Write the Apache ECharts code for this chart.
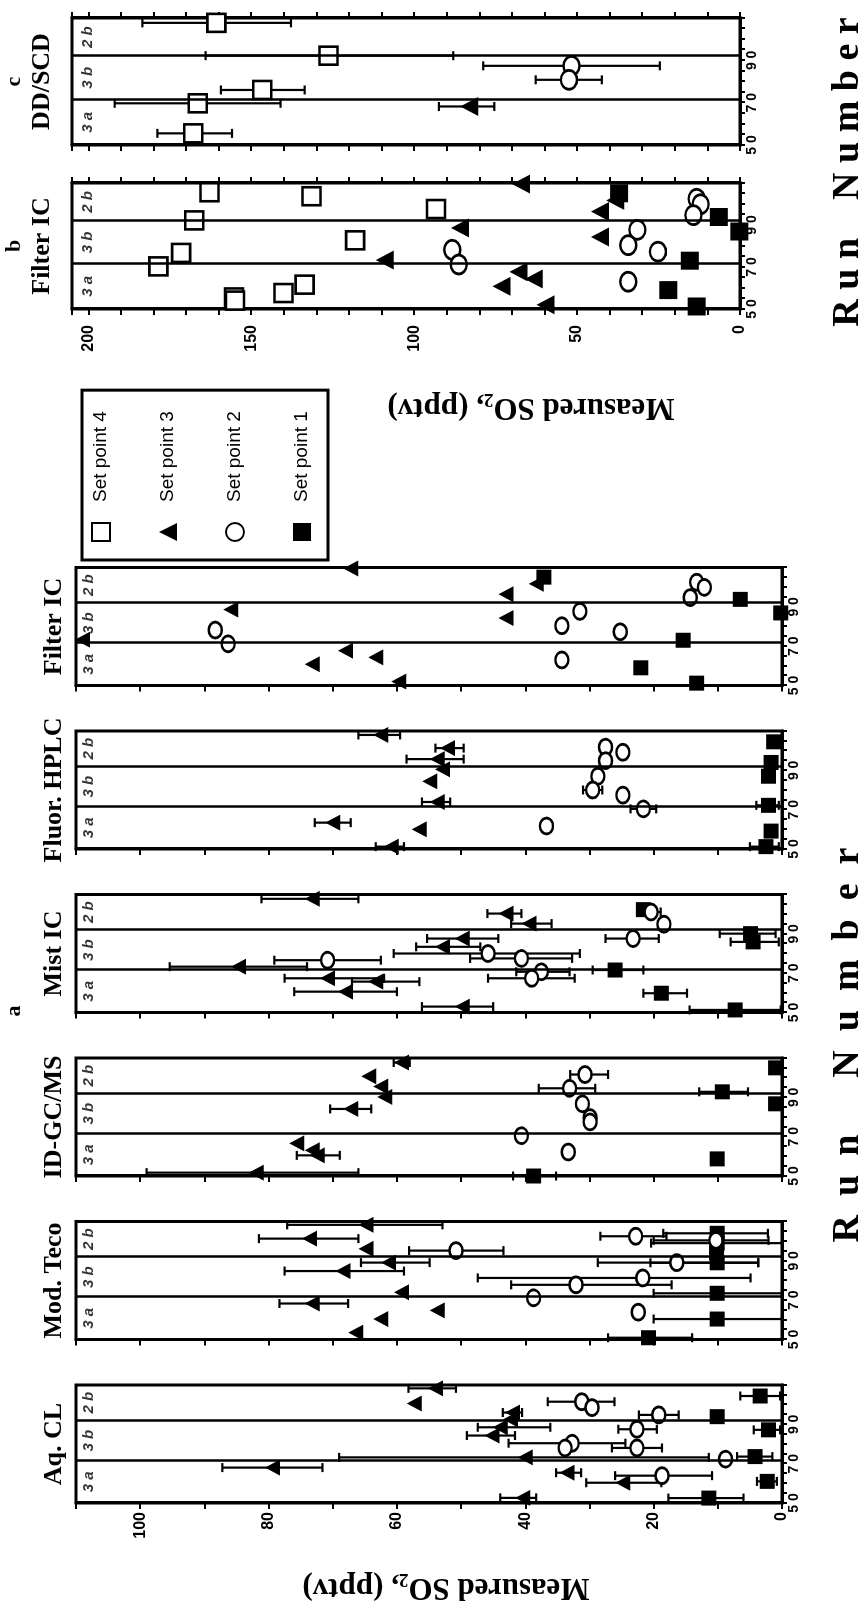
<!DOCTYPE html>
<html>
<head>
<meta charset="utf-8">
<script src="https://cdn.jsdelivr.net/npm/echarts@6/dist/echarts.min.js"></script>
<style>
  html, body { margin: 0; padding: 0; background: #fff; overflow: hidden; }
  /* the figure is laid out upright and turned a quarter turn to the left, like the printed page */
  #chart { position: absolute; left: 0; top: 0; width: 1605px; height: 868px;
           transform-origin: 0 0; transform: translateY(1605px) rotate(-90deg); }
</style>
</head>
<body>
<div id="chart"></div>
<script>
// run number axis
const runMin = 50;
const runMax = 110;
const runLabelValues = [50, 70, 90];
const setBoundaries = [71.5, 92];
const setLabels = ['3 a', '3 b', '2 b'];

// measured SO2 (pptv): [run, value, error end, error end]
const aqclSp1 = [[104.4, 3.4, 6.5, 0.3], [93.9, 10.1], [87.2, 2.1, 4.4, 0.3], [73.6, 4.2, 7, 1.5], [61, 2.3, 3.9, 0.8], [52.5, 11.4, 17.7, 6]];
const aqclSp2 = [[101.5, 31.2, 36.5, 26.1], [98.5, 29.6], [94.8, 19.2, 22.3, 16.1], [87.5, 22.6, 25.5, 19.5], [80.4, 32.7, 42.6, 24.4], [78, 33.8], [78, 22.6, 26.5, 18.7], [72.3, 8.8], [63.9, 18.7, 26, 10.9]];
const aqclSp3 = [[108.3, 54, 58.2, 50.8], [100.6, 57.3], [96, 42, 43.5, 40.5], [92.5, 42.3], [88.5, 43.9, 47.4, 36.1], [84.3, 45.2, 49.1, 41.6], [73.2, 40, 69, 11.4], [68, 79.4, 87.2, 71.6], [65.4, 33.5, 35.2, 31.3], [60.3, 24.8, 30.5, 18.8], [52.6, 40.4, 43.9, 38.3]];

const tecoSp1 = [[104, 10.1, 18.5, 2.2], [99, 10.1, 20.4, 0], [94, 10.2], [89, 10.1, 20.5, 3.7], [73.5, 10.1, 20, 0], [60.4, 10.1, 20, 0], [50.9, 20.8, 27.1, 14]];
const tecoSp2 = [[102.5, 22.8, 28.3, 18], [100.4, 10.3, 20, 2.1], [95.2, 50.8, 58.1, 43.4], [89.1, 16.4, 28.7, 3.7], [81.3, 21.7, 47.4, 4.9], [77.8, 32.1, 42.2, 17.2], [71.2, 38.7], [63.9, 22.4]];
const tecoSp3 = [[108.3, 64.8, 77.1, 52.9], [101.3, 73.6, 81.5, 66], [96.1, 64.8], [89.1, 61.3, 65.6, 54.9], [84.8, 68.4, 77.5, 58.9], [74, 59.3], [68.3, 73.2, 78.3, 67.6], [64.8, 53.7], [60.4, 62.5], [53.5, 66.4]];

const idgcSp1 = [[105, 1], [92.8, 9.3, 12.9, 5.3], [86.7, 1], [58.7, 10.1], [50, 38.7, 41.9, 35.2]];
const idgcSp2 = [[101.6, 30.7, 33, 27.1], [94.6, 33.1, 37.9, 29.1], [86.7, 31.1], [79.7, 29.9], [77.5, 29.9], [70.5, 40.6], [62.2, 33.3]];
const idgcSp3 = [[107.7, 59.3, 60.5, 58], [100.7, 64.4], [95.5, 62.5], [90.2, 61.9], [84.1, 67.2, 70.4, 64], [66.6, 75.6], [63.1, 73.2], [60.5, 72.4, 75.6, 68.9], [51.7, 81.9, 99, 66]];

const mistSp1 = [[102.3, 21.6, 22.5, 20.3], [90.1, 4.9, 9.7, 1], [85.9, 4.5, 8, 0.5], [71.6, 26, 29.5, 21.6], [59.8, 18.8, 21.6, 14.8], [51.3, 7.3, 14.4, 0.2]];
const mistSp2 = [[101.1, 20.4, 21.5, 18.9], [94.9, 18.4], [87.6, 23.2, 27.5, 19.2], [80, 45.8, 60.5, 31.5], [77.5, 40.6, 48.6, 32.7], [76.6, 70.8, 79.1, 62.5], [70.7, 37.5, 41.4, 33.1], [67.4, 39, 45.8, 32.3]];
const mistSp3 = [[107.8, 73.2, 81.1, 66], [100.3, 43, 45.9, 40.6], [95.2, 39.4, 42.2, 35.9], [87.6, 49.8, 55.3, 44.2], [83.4, 52.9, 57, 47], [73.3, 84.7, 95.4, 74], [67.4, 70.8, 77.5, 62], [65.7, 63.3, 67, 56.5], [60.6, 68, 76, 60], [53, 49.8, 56.1, 45]];

const hplcSp1 = [[104.5, 1.3], [94, 1.7], [87, 2.1], [72.2, 2.1, 4, 0.5], [59.1, 1.7], [51.2, 2.5, 5, 0.5]];
const hplcSp2 = [[101.8, 27.5], [99.2, 24.8], [94.9, 27.5], [87, 28.7], [80, 29.5, 31, 28], [77.4, 24.8], [70.4, 21.6, 23.6, 19.6], [61.7, 36.7]];
const hplcSp3 = [[108, 62.5, 66, 59.5], [101.3, 52.1, 54, 49.6], [95.7, 53.7, 58.5, 49.6], [90.5, 52.9], [84.4, 54.9], [73.9, 53.7, 56.1, 51.7], [63.4, 70, 72.8, 67.2], [60, 56.5], [51.2, 60.9, 63.3, 58.9]];

const filterSp1 = [[105.1, 37.1], [93.8, 6.5], [86.9, 0.2], [73, 15.4], [59, 22], [51.2, 13.3]];
const filterSp2 = [[102.5, 13.3], [99.9, 12.1], [94.7, 14.3], [87.7, 31.5], [80.4, 34.3], [78.2, 88.3], [77.3, 25.2], [71.2, 86.3], [63, 34.3]];
const filterSp3 = [[109.5, 67.2], [101.7, 38.3], [96.4, 43], [88.6, 85.9], [84.3, 43], [73.3, 109], [67.7, 68], [64.3, 63.3], [60.8, 73.2], [52, 59.7]];
const filterSp4 = [[105.6, 162.8], [103.7, 131.5], [97.6, 93.3], [92.2, 167.5], [82.7, 118.1], [76.7, 171.5], [70.3, 178.5], [61.6, 133.6], [57.6, 140.1], [55.5, 155.3], [54, 155]];

const ddscdSp2 = [[87.4, 51.7, 78.8, 24.6], [80.8, 52.5, 62.7, 42.4]];
const ddscdSp3 = [[68.2, 83.1, 92.4, 75.4]];
const ddscdSp4 = [[107.7, 160.7, 183.4, 137.8], [92.2, 126.3, 164, 88], [76, 146.6, 159.3, 133.6], [69.7, 166.4, 191.9, 141], [55.5, 167.8, 178.8, 155.9]];

const SERIF = '"Liberation Serif", "DejaVu Serif", serif';
const SANS = '"Liberation Sans", Arial, sans-serif';

const setStyles = {
  1: { name: 'Set point 1', symbol: 'rect', fill: '#000' },
  2: { name: 'Set point 2', symbol: 'circle', fill: '#fff' },
  3: { name: 'Set point 3', symbol: 'triangle', fill: '#000' },
  4: { name: 'Set point 4', symbol: 'rect', fill: '#fff' },
};

const grids = [], xAxes = [], yAxes = [], series = [], graphics = [];

function renderErrorBar(params, api) {
  const a = api.coord([api.value(0), api.value(1)]);
  const b = api.coord([api.value(0), api.value(2)]);
  const cap = 4.5;
  const style = { stroke: '#000', lineWidth: 2.2 };
  return {
    type: 'group',
    children: [
      { type: 'line', shape: { x1: a[0], y1: a[1], x2: b[0], y2: b[1] }, style },
      { type: 'line', shape: { x1: a[0] - cap, y1: a[1], x2: a[0] + cap, y2: a[1] }, style },
      { type: 'line', shape: { x1: b[0] - cap, y1: b[1], x2: b[0] + cap, y2: b[1] }, style },
    ],
  };
}

function addPanel(p) {
  const gi = grids.length;
  grids.push({ left: p.left, top: p.top, width: p.width, height: p.height, show: true, borderColor: '#000', borderWidth: 3 });

  const axisLine = { show: true, onZero: false, lineStyle: { color: '#000', width: 3 } };
  xAxes.push({
    gridIndex: gi, type: 'value', min: runMin, max: runMax, interval: 5,
    axisLine, splitLine: { show: false },
    axisTick: { show: true, length: 5, lineStyle: { color: '#000', width: 2 } },
    axisLabel: {
      margin: 5, color: '#000', fontFamily: SANS, fontWeight: 'bold', fontSize: 14,
      formatter: (v) => runLabelValues.includes(v) ? String(v).split('').join(' ') : '',
    },
  });

  const yi = yAxes.length;
  const valueAxis = {
    gridIndex: gi, type: 'value', min: 0, max: p.vMax, interval: 10,
    axisLine, splitLine: { show: false },
    axisTick: { show: true, length: 6, lineStyle: { color: '#000', width: 2 } },
    axisLabel: {
      show: p.valueLabels, margin: p.labelMargin, color: '#000', fontFamily: SANS, fontWeight: 'bold', fontSize: 16,
      formatter: (v) => (v % p.labelStep === 0 && v <= p.vMax - 5) ? String(v) : '',
    },
  };
  yAxes.push(valueAxis);
  if (p.mirror) {
    yAxes.push({ ...valueAxis, position: 'right', axisLabel: { show: false } });
  }

  // set labels (3a / 3b / 2b) and the set boundaries
  const edges = [runMin, ...setBoundaries, runMax];
  series.push({
    type: 'scatter', xAxisIndex: gi, yAxisIndex: yi, z: 1, silent: true,
    symbolSize: 1, itemStyle: { color: 'transparent' },
    data: setLabels.map((t, i) => ({ name: t, value: [(edges[i] + edges[i + 1]) / 2, p.setLabelAt] })),
    label: { show: true, position: 'inside', formatter: '{b}', color: '#000', fontFamily: SANS, fontWeight: 'bold', fontStyle: 'italic', fontSize: 15 },
    markLine: {
      silent: true, symbol: ['none', 'none'], label: { show: false },
      lineStyle: { color: '#000', width: 2.5, type: 'solid' },
      data: setBoundaries.map((v) => ({ xAxis: v })),
    },
  });

  const errData = [];
  p.sets.forEach(([, pts]) => pts.forEach((d) => { if (d.length > 2) errData.push([d[0], d[2], d[3]]); }));
  series.push({
    type: 'custom', xAxisIndex: gi, yAxisIndex: yi, z: 2, silent: true,
    data: errData, encode: { x: 0, y: [1, 2] }, renderItem: renderErrorBar,
  });

  p.sets.forEach(([k, pts]) => {
    const st = setStyles[k];
    const open = st.fill === '#fff';
    let size = p.symbolSize;
    if (st.symbol === 'circle') size = [p.symbolSize + 1, p.symbolSize - 2];
    if (st.symbol === 'triangle') size = [p.symbolSize + 1, p.symbolSize];
    series.push({
      type: 'scatter', name: st.name, xAxisIndex: gi, yAxisIndex: yi, z: 3, silent: true,
      symbol: st.symbol, symbolSize: size,
      itemStyle: { color: st.fill, borderColor: '#000', borderWidth: open ? 2.6 : 0, opacity: 1 },
      data: pts.map((d) => [d[0], d[1]]),
    });
  });

  const cx = p.left + p.width / 2;
  p.titles.forEach(([text, y, size]) => {
    graphics.push({
      type: 'text', x: cx, y,
      style: { text, font: `bold ${size}px ${SERIF}`, fill: '#000', align: 'center', verticalAlign: 'middle', textAlign: 'center', textVerticalAlign: 'middle' },
    });
  });
}

const panelsA = [
  { title: 'Aq. CL', sets: [[1, aqclSp1], [2, aqclSp2], [3, aqclSp3]] },
  { title: 'Mod. Teco', sets: [[1, tecoSp1], [2, tecoSp2], [3, tecoSp3]] },
  { title: 'ID-GC/MS', sets: [[1, idgcSp1], [2, idgcSp2], [3, idgcSp3]] },
  { title: 'Mist IC', sets: [[1, mistSp1], [2, mistSp2], [3, mistSp3]] },
  { title: 'Fluor. HPLC', sets: [[1, hplcSp1], [2, hplcSp2], [3, hplcSp3]] },
  { title: 'Filter IC', sets: [[1, filterSp1], [2, filterSp2], [3, filterSp3]] },
];

panelsA.forEach((pa, i) => addPanel({
  left: 102 + i * 163.5, top: 76, width: 118, height: 706,
  vMax: 110, labelStep: 20, valueLabels: i === 0, labelMargin: 9, mirror: false,
  setLabelAt: 108, symbolSize: 15, sets: pa.sets,
  titles: [[pa.title, 54, 26]],
}));

addPanel({
  left: 1296, top: 72, width: 126, height: 668,
  vMax: 205, labelStep: 50, valueLabels: true, labelMargin: 16, mirror: true,
  setLabelAt: 200, symbolSize: 18,
  sets: [[4, filterSp4], [1, filterSp1], [2, filterSp2], [3, filterSp3]],
  titles: [['b', 14, 22], ['Filter IC', 42, 26]],
});

addPanel({
  left: 1460, top: 72, width: 127, height: 668,
  vMax: 205, labelStep: 50, valueLabels: false, labelMargin: 16, mirror: true,
  setLabelAt: 200, symbolSize: 18,
  sets: [[4, ddscdSp4], [2, ddscdSp2], [3, ddscdSp3]],
  titles: [['c', 14, 22], ['DD/SCD', 42, 26]],
});

graphics.push({
  type: 'text', x: 594, y: 14,
  style: { text: 'a', font: `bold 22px ${SERIF}`, fill: '#000', align: 'center', verticalAlign: 'middle' },
});

const measuredRich = {
  m: { fontFamily: SERIF, fontWeight: 'bold', fontSize: 31, lineHeight: 36, verticalAlign: 'middle', color: '#000' },
  sub: { fontFamily: SERIF, fontWeight: 'bold', fontSize: 19, lineHeight: 18, verticalAlign: 'bottom', color: '#000' },
};
[[18, 446], [1198, 531]].forEach(([x, y]) => graphics.push({
  type: 'text', x, y, rotation: Math.PI / 2,
  style: { text: '{m|Measured SO}{sub|2}{m|, (pptv)}', rich: measuredRich, align: 'center', verticalAlign: 'middle' },
}));

[[560, 'R  u  n      N  u  m  b  e  r'], [1433, 'R u n    N u m b e r']].forEach(([x, text]) => graphics.push({
  type: 'text', x, y: 848,
  style: { text, font: `bold 38px ${SERIF}`, fill: '#000', align: 'center', verticalAlign: 'middle', textAlign: 'center', textVerticalAlign: 'middle' },
}));

const chart = echarts.init(document.getElementById('chart'), null, { renderer: 'canvas' });
chart.setOption({
  backgroundColor: '#fff',
  animation: false,
  grid: grids,
  xAxis: xAxes,
  yAxis: yAxes,
  legend: {
    data: ['Set point 4', 'Set point 3', 'Set point 2', 'Set point 1'],
    orient: 'vertical', left: 1045, top: 82,
    itemWidth: 18, itemHeight: 18, itemGap: 47,
    padding: [9, 21, 16, 18],
    borderColor: '#000', borderWidth: 3,
    selectedMode: false,
    textStyle: { fontFamily: SANS, fontSize: 19, lineHeight: 20, color: '#000', padding: [0, 0, 0, 16] },
  },
  graphic: graphics,
  series,
});
</script>
</body>
</html>
